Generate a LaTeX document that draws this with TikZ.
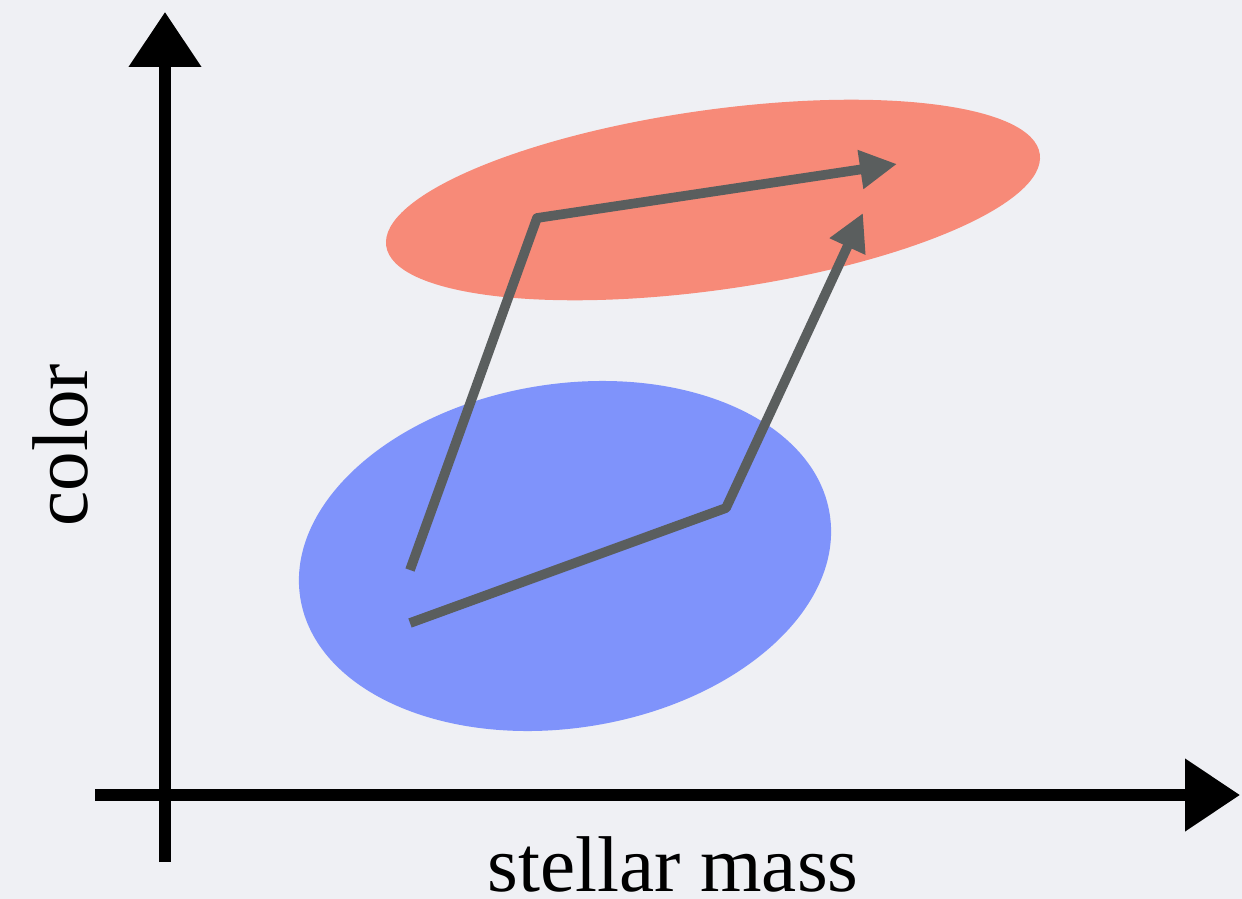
\documentclass[tikz,border=0pt]{standalone}
\usepackage{fontspec}
\setmainfont{Liberation Serif}
\usetikzlibrary{arrows.meta}
\definecolor{bgcol}{HTML}{EFF0F4}
\definecolor{redcloud}{HTML}{F78A78}
\definecolor{bluecloud}{HTML}{7F93FB}
\definecolor{trackcol}{HTML}{5A5E5E}
\begin{document}
\begin{tikzpicture}[x=0.02cm, y=-0.02cm, line join=round,
  axis/.style={line width=6.5pt, -{Triangle[length=1.1cm, width=1.4cm]}},
  track/.style={trackcol, line width=5.5pt, -{Triangle[length=0.74cm, width=0.74cm]}},
  label/.style={inner sep=0pt, font=\fontsize{45}{54}\selectfont}]
	\fill[bgcol] (0,0) rectangle (1242,899);
	\useasboundingbox (0,0) rectangle (1242,899);
	
	\coordinate (O) at (165,795);
	\coordinate (Ytop) at (165,12);
	\coordinate (Ybot) at (165,862);
	\coordinate (Xleft) at (95,795);
	\coordinate (Xright) at (1240,795);
	
	% the two clouds
	\fill[redcloud] (713,200) ellipse[x radius=330, y radius=90, rotate=8];
	\fill[bluecloud] (565,556) ellipse[x radius=268, y radius=172, rotate=9];
	
	% axes
	\draw[axis] (Ybot) -- (Ytop);
	\draw[axis] (Xleft) -- (Xright);
	
	\node[label, rotate=90] (ylab) at (60,445) {color};
	\node[label] (xlab) at (673,864) {stellar mass};
	
	% two paths from blue to red
	\coordinate (P1) at (410,570);
	\coordinate (Q1) at (537,218);
	\coordinate (R1) at (897,164);
	\coordinate (P2) at (410,623);
	\coordinate (Q2) at (726,508);
	\coordinate (R2) at (863,213);
	
	\draw[track] (P1) -- (Q1) -- (R1);
	\draw[track] (P2) -- (Q2) -- (R2);
\end{tikzpicture}
\end{document}
